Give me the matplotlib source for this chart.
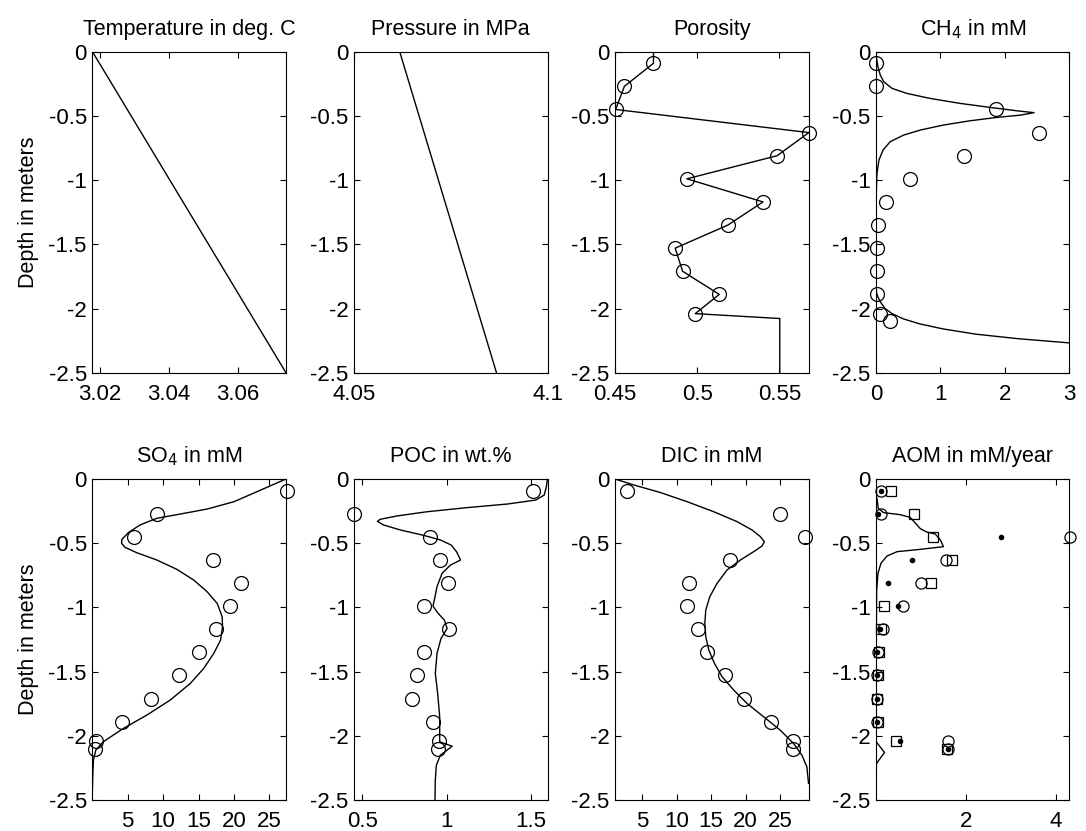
import numpy as np
import matplotlib
matplotlib.use("Agg")
import matplotlib.pyplot as plt

plt.rcParams['font.family'] = ['Liberation Sans', 'DejaVu Sans']
plt.rcParams['axes.unicode_minus'] = False

# sample depths (m)
depth_obs = [-0.09, -0.27, -0.45, -0.63, -0.81, -0.99, -1.17, -1.35, -1.53, -1.71, -1.89, -2.04, -2.10]

# temperature / pressure model (linear)
temp_depth = [0.0, -2.5]
temp_val = [3.0178, 3.0740]
pres_depth = [0.0, -2.5]
pres_val = [4.0618, 4.0868]

# porosity
poro_obs = [0.4734, 0.4557, 0.4504, 0.5679, 0.5486, 0.4937, 0.5400, 0.5187, 0.4866, 0.4911, 0.5134, 0.4988]
poro_line_depth = [0.0, -0.09, -0.27, -0.45, -0.63, -0.81, -0.99, -1.17, -1.35, -1.53, -1.71, -1.89, -2.04, -2.078, -2.5]
poro_line_val = [0.4734, 0.4734, 0.4557, 0.4504, 0.5679, 0.5486, 0.4937, 0.5400, 0.5187, 0.4866, 0.4911, 0.5134, 0.4988, 0.5502, 0.5502]

# methane
ch4_obs = [0.0, 0.005, 1.86, 2.52, 1.36, 0.53, 0.155, 0.03, 0.02, 0.015, 0.015, 0.057, 0.22]
ch4_line_depth = [0.0, -0.052, -0.117, -0.182, -0.234, -0.286, -0.325, -0.364, -0.403, -0.434, -0.460, -0.475,
                  -0.494, -0.512, -0.538, -0.571, -0.610, -0.649, -0.701, -0.766, -0.844, -0.948, -1.10, -1.42,
                  -1.81, -1.88, -1.91, -1.95, -2.00, -2.04, -2.08, -2.12, -2.16, -2.20, -2.235, -2.268]
ch4_line_val = [0.0, 0.01, 0.03, 0.067, 0.12, 0.25, 0.48, 0.84, 1.31, 1.77, 2.18, 2.45,
                2.24, 1.87, 1.46, 1.05, 0.69, 0.43, 0.22, 0.11, 0.046, 0.015, 0.005, 0.0,
                0.0, 0.01, 0.03, 0.07, 0.14, 0.25, 0.42, 0.68, 1.05, 1.55, 2.20, 3.0]

# sulfate
so4_obs = [27.4, 9.12, 5.9, 17.0, 21.0, 19.5, 17.45, 15.0, 12.3, 8.3, 4.26, 0.6, 0.37]
so4_line_depth = [0.0, -0.086, -0.177, -0.234, -0.273, -0.306, -0.358, -0.418, -0.470, -0.501, -0.532, -0.574,
                  -0.631, -0.704, -0.787, -0.878, -0.969, -1.073, -1.151, -1.255, -1.358, -1.475, -1.592,
                  -1.722, -1.839, -1.943, -2.047, -2.112, -2.19, -2.32, -2.42]
so4_line_val = [27.32, 23.77, 19.99, 16.21, 12.43, 9.12, 6.75, 5.10, 4.20, 4.15, 4.62, 6.28,
                9.12, 11.95, 14.32, 16.21, 17.63, 18.33, 18.38, 18.10, 17.15, 15.73, 13.84,
                11.0, 7.70, 4.39, 1.55, 0.51, 0.18, 0.085, 0.04]

# particulate organic carbon
poc_obs = [1.516, 0.452, 0.900, 0.963, 1.007, 0.868, 1.015, 0.868, 0.824, 0.796, 0.919, 0.955, 0.951]
poc_line_depth = [0.0, -0.060, -0.125, -0.164, -0.195, -0.223, -0.255, -0.288, -0.314, -0.330, -0.358, -0.397,
                  -0.439, -0.475, -0.514, -0.566, -0.631, -0.670, -0.735, -0.839, -0.943, -0.990, -1.042,
                  -1.099, -1.164, -1.242, -1.358, -1.514, -1.670, -1.852, -2.047, -2.081, -2.151, -2.229,
                  -2.345, -2.5]
poc_line_val = [1.599, 1.593, 1.580, 1.530, 1.361, 1.122, 0.884, 0.705, 0.605, 0.589, 0.625, 0.725,
                0.864, 0.963, 1.027, 1.059, 1.083, 1.023, 0.973, 0.943, 0.927, 0.919, 0.947,
                0.987, 1.003, 0.967, 0.943, 0.933, 0.947, 0.959, 0.959, 1.033, 0.963, 0.939,
                0.933, 0.931]

# dissolved inorganic carbon
dic_obs = [2.82, 25.04, 28.57, 17.70, 11.85, 11.42, 13.06, 14.41, 16.98, 19.78, 23.69, 26.88, 26.88]
dic_line_depth = [0.0, -0.047, -0.106, -0.177, -0.255, -0.332, -0.397, -0.449, -0.488, -0.522, -0.566, -0.631,
                  -0.709, -0.813, -0.917, -1.021, -1.125, -1.229, -1.332, -1.436, -1.540, -1.644, -1.748,
                  -1.852, -1.956, -2.060, -2.151, -2.242, -2.371]
dic_line_val = [1.03, 3.79, 7.65, 11.52, 15.38, 18.76, 20.94, 22.15, 22.73, 22.39, 21.18, 19.25,
                17.31, 15.86, 14.80, 14.22, 14.08, 14.22, 14.66, 15.48, 16.59, 18.28, 20.21,
                22.63, 25.04, 26.98, 28.19, 28.91, 29.15]

# AOM rates: three estimates + model
aom_circ = [0.12, 0.12, 4.32, 1.56, 1.01, 0.59, 0.15, 0.044, 0.022, 0.022, 0.022, 1.60, 1.60]
aom_sq = [0.33, 0.84, 1.26, 1.70, 1.23, 0.185, 0.12, 0.06, 0.037, 0.03, 0.037, 0.44, 1.58]
aom_dot = [0.12, 0.044, 2.78, 0.80, 0.27, 0.50, 0.096, 0.022, 0.015, 0.015, 0.015, 0.53, 1.59]
aom_line_depth = [0.0, -0.138, -0.229, -0.262, -0.278, -0.299, -0.345, -0.387, -0.413, -0.429, -0.475, -0.527,
                  -0.548, -0.566, -0.600, -0.657, -0.735, -0.865, -1.28, -2.047, -2.13, -2.216, -2.5]
aom_line_val = [0.0, 0.015, 0.052, 0.17, 0.54, 0.76, 0.88, 0.985, 1.13, 1.32, 1.43, 1.50,
                0.985, 0.47, 0.244, 0.111, 0.044, 0.015, 0.007, 0.007, 0.19, 0.01, 0.0]

titles = ["Temperature in deg. C", "Pressure in MPa", "Porosity", "CH$_4$ in mM",
          "SO$_4$ in mM", "POC in wt.%", "DIC in mM", "AOM in mM/year"]
xlims = [(3.0178, 3.0740), (4.05, 4.1), (0.45, 0.5677), (0, 3),
         (0.04, 27.32), (0.45, 1.6), (1.03, 29.15), (0, 4.3)]
xticks = [[3.02, 3.04, 3.06], [4.05, 4.1], [0.45, 0.5, 0.55], [0, 1, 2, 3],
          [5, 10, 15, 20, 25], [0.5, 1, 1.5], [5, 10, 15, 20, 25], [2, 4]]
xticklabels = [["3.02", "3.04", "3.06"], ["4.05", "4.1"], ["0.45", "0.5", "0.55"], ["0", "1", "2", "3"],
               ["5", "10", "15", "20", "25"], ["0.5", "1", "1.5"], ["5", "10", "15", "20", "25"], ["2", "4"]]
yticks = [0, -0.5, -1, -1.5, -2, -2.5]
yticklabels = ["0", "-0.5", "-1", "-1.5", "-2", "-2.5"]

fig = plt.figure(figsize=(10.86, 8.31), dpi=100)
lefts = [0.0851, 0.3260, 0.5663, 0.8066]
bottoms = [0.5515, 0.0373]
w, h = 0.1782, 0.3863
axes = []
for r in range(2):
    for c in range(4):
        axes.append(fig.add_axes([lefts[c], bottoms[r], w, h]))

lw = 1.0
circ = dict(marker='o', ms=10, mfc='none', mec='k', mew=0.9, ls='none', clip_on=False)

axes[0].plot(temp_val, temp_depth, 'k-', lw=lw)
axes[1].plot(pres_val, pres_depth, 'k-', lw=lw)
axes[2].plot(poro_line_val, poro_line_depth, 'k-', lw=lw)
axes[2].plot(poro_obs, depth_obs[:len(poro_obs)], **circ)
axes[3].plot(ch4_line_val, ch4_line_depth, 'k-', lw=lw)
axes[3].plot(ch4_obs, depth_obs, **circ)
axes[4].plot(so4_line_val, so4_line_depth, 'k-', lw=lw)
axes[4].plot(so4_obs, depth_obs, **circ)
axes[5].plot(poc_line_val, poc_line_depth, 'k-', lw=lw)
axes[5].plot(poc_obs, depth_obs, **circ)
axes[6].plot(dic_line_val, dic_line_depth, 'k-', lw=lw)
axes[6].plot(dic_obs, depth_obs, **circ)
axes[7].plot(aom_line_val, aom_line_depth, 'k-', lw=lw)
axes[7].plot(aom_circ, depth_obs, marker='o', ms=8, mfc='none', mec='k', mew=0.9, ls='none', clip_on=False)
axes[7].plot(aom_sq, depth_obs, marker='s', ms=7, mfc='none', mec='k', mew=0.9, ls='none', clip_on=False)
axes[7].plot(aom_dot, depth_obs, marker='o', ms=3, mfc='k', mec='k', ls='none', clip_on=False)

for i, ax in enumerate(axes):
    ax.set_xlim(*xlims[i])
    ax.set_ylim(-2.5, 0)
    ax.set_xticks(xticks[i])
    ax.set_xticklabels(xticklabels[i])
    ax.set_yticks(yticks)
    ax.set_yticklabels(yticklabels)
    ax.tick_params(direction='in', top=True, right=True, length=4, width=0.8,
                   labelsize=16, pad=4)
    ax.tick_params(axis='x', pad=8)
    ax.set_title(titles[i], fontsize=15.5, pad=12)
    for s in ax.spines.values():
        s.set_linewidth(0.8)
    if i % 4 == 0:
        ax.set_ylabel("Depth in meters", fontsize=15.5, labelpad=7)

plt.savefig("out.png", dpi=100)
